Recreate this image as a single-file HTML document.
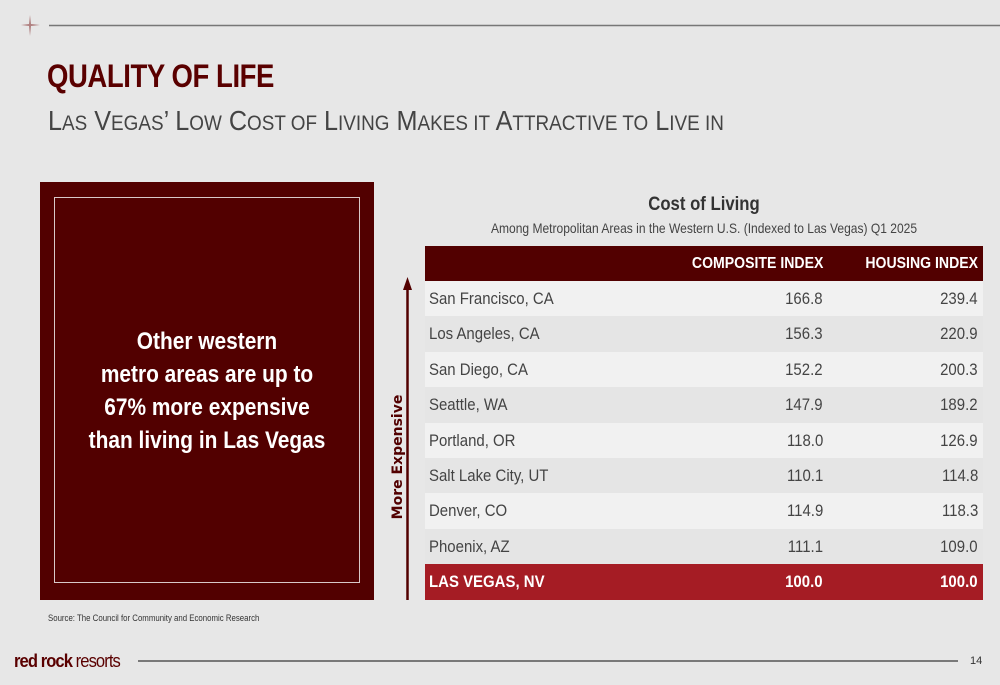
<!DOCTYPE html>
<html><head><meta charset="utf-8"><style>
body{margin:0;width:1000px;height:685px;background:#e7e7e7;position:relative;overflow:hidden;font-family:"Liberation Sans Narrow","Liberation Sans",sans-serif;}
.abs{position:absolute;}
</style></head><body>
<svg class="abs" style="left:0;top:0" width="1000" height="685">
<path d="M30 15 L31 24 L40 25 L31 26 L30 36 L29 26 L21 25 L29 24 Z" fill="#b08080"/>
<line x1="49" y1="25.5" x2="1000" y2="25.5" stroke="#777" stroke-width="1.5"/>
<line x1="138" y1="661" x2="958" y2="661" stroke="#555" stroke-width="1.5"/>
<line x1="407.5" y1="600" x2="407.5" y2="285" stroke="#520000" stroke-width="2.5"/>
<polygon points="403,290 412,290 407.5,277" fill="#520000"/>
</svg>
<div class="abs" style="left:47px;top:58px;font-size:32px;font-weight:bold;color:#5a0000;letter-spacing:-0.5px;transform:scaleX(0.86);transform-origin:left top;">QUALITY OF LIFE</div>
<div class="abs" style="left:48px;top:105px;font-size:28px;color:#444;transform:scaleX(0.9);transform-origin:left top;white-space:nowrap;">L<span style="font-size:21px">AS</span> V<span style="font-size:21px">EGAS</span>’ L<span style="font-size:21px">OW</span> C<span style="font-size:21px">OST OF</span> L<span style="font-size:21px">IVING</span> M<span style="font-size:21px">AKES IT</span> A<span style="font-size:21px">TTRACTIVE TO</span> L<span style="font-size:21px">IVE IN</span></div>

<div class="abs" style="left:40px;top:182px;width:334px;height:418px;background:#520000;">
 <div class="abs" style="left:14px;top:15px;width:304px;height:384px;border:1px solid #d8c8c8;"></div>
 <div class="abs" style="left:0;top:143px;width:334px;text-align:center;color:#fff;font-weight:bold;font-size:24px;line-height:33px;transform:scaleX(0.87);">Other western<br>metro areas are up to<br>67% more expensive<br>than living in Las Vegas</div>
</div>

<div class="abs" style="left:398px;top:457px;transform:translate(-50%,-50%) rotate(-90deg);font-size:14px;font-weight:bold;color:#520000;white-space:nowrap;font-family:'DejaVu Sans',sans-serif;">More Expensive</div>

<div class="abs" style="left:425px;top:194px;width:558px;text-align:center;font-size:19px;font-weight:bold;color:#333;transform:scaleX(0.88);">Cost of Living</div>
<div class="abs" style="left:425px;top:220px;width:558px;text-align:center;font-size:14px;color:#444;transform:scaleX(0.86);white-space:nowrap;">Among Metropolitan Areas in the Western U.S. (Indexed to Las Vegas) Q1 2025</div>

<div class="abs" id="tbl" style="left:425px;top:246px;width:558px;"></div>

<div class="abs" style="left:48px;top:613px;font-size:9px;color:#333;transform:scaleX(0.87);transform-origin:left top;white-space:nowrap;">Source: The Council for Community and Economic Research</div>
<div class="abs" style="left:14px;top:651px;font-size:18px;color:#5a0000;letter-spacing:-1px;transform:scaleX(0.92);transform-origin:left top;white-space:nowrap;"><b>red rock</b> resorts</div>
<div class="abs" style="left:970px;top:655px;font-size:11px;color:#333;">14</div>

<script>
const cities=["San Francisco, CA","Los Angeles, CA","San Diego, CA","Seattle, WA","Portland, OR","Salt Lake City, UT","Denver, CO","Phoenix, AZ","LAS VEGAS, NV"];
const composite=[166.8,156.3,152.2,147.9,118.0,110.1,114.9,111.1,100.0];
const housing=[239.4,220.9,200.3,189.2,126.9,114.8,118.3,109.0,100.0];
const tbl=document.getElementById('tbl');
const sq='display:inline-block;transform:scaleX(0.88);';
const hdr=document.createElement('div');


hdr.style.cssText='position:relative;height:35px;background:#520000;color:#fff;font-weight:bold;font-size:16px;';
hdr.innerHTML='<span style="position:absolute;right:160px;top:9px;'+sq+'transform-origin:right top">COMPOSITE INDEX</span><span style="position:absolute;right:5px;top:9px;'+sq+'transform-origin:right top">HOUSING INDEX</span>';
tbl.appendChild(hdr);
cities.forEach((c,i)=>{
 const last=i===cities.length-1;
 const r=document.createElement('div');
 
 
 r.style.cssText='position:relative;height:35.4px;font-size:17px;white-space:nowrap;'+(last?'background:#a51c24;color:#fff;font-weight:bold;':'color:#444;background:'+(i%2?'#e5e5e5':'#f1f1f1')+';');
 r.innerHTML='<span style="position:absolute;left:4px;top:8px;'+sq+'transform-origin:left top">'+c+'</span><span style="position:absolute;right:160px;top:8px;'+sq+'transform-origin:right top">'+composite[i].toFixed(1)+'</span><span style="position:absolute;right:5px;top:8px;'+sq+'transform-origin:right top">'+housing[i].toFixed(1)+'</span>';
 tbl.appendChild(r);
});
</script>
</body></html>
